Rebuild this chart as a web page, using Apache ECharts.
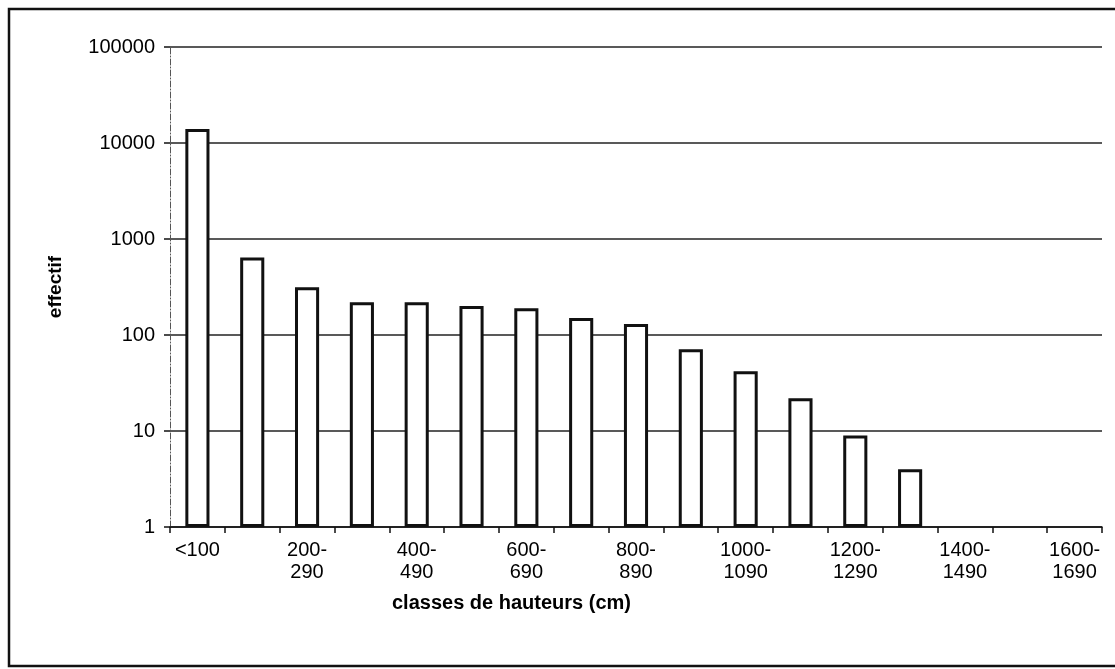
<!DOCTYPE html>
<html>
<head>
<meta charset="utf-8">
<script src="https://cdn.jsdelivr.net/npm/echarts@6/dist/echarts.min.js"></script>
<style>
html,body{margin:0;padding:0;background:#fff;}
#c{width:1115px;height:669px;}
</style>
</head>
<body>
<div id="c"></div>
<script>
const categories = ["<100","100-190","200-290","300-390","400-490","500-590","600-690","700-790","800-890","900-990","1000-1090","1100-1190","1200-1290","1300-1390","1400-1490","1500-1590","1600-1690"];
const effectif = [14000, 640, 315, 220, 220, 200, 190, 150, 130, 71, 42, 22, 9, 4, null, null, null];
const yTicks = [1, 10, 100, 1000, 10000, 100000];
const xTitle = "classes de hauteurs (cm)";
const yTitle = "effectif";

const chart = echarts.init(document.getElementById('c'), null, {renderer:'canvas'});
const FONT = 'Liberation Sans, Arial, sans-serif';
chart.setOption({
  animation: false,
  backgroundColor: '#fff',
  grid: {left: 170, right: 13, top: 47, bottom: 142},
  graphic: [
    {type:'rect', shape:{x:9, y:9, width:1120, height:657}, style:{fill:null, stroke:'#111', lineWidth:2.5}, z:-1},
    {type:'text', left: 392, top: 593, style:{text: xTitle, font: 'bold 20px ' + FONT, fill:'#000'}}
  ],
  xAxis: {
    type: 'category',
    data: categories,
    boundaryGap: true,
    axisLine: {lineStyle:{color:'#111', width:1.5}},
    axisTick: {show:true, interval:0, length:6, lineStyle:{color:'#111', width:1.5}},
    axisLabel: {
      interval: 1,
      margin: 12,
      color: '#000',
      fontFamily: FONT,
      fontSize: 20,
      lineHeight: 22,
      formatter: v => v.indexOf('-') > 0 ? v.replace('-', '-\n') : v
    },
    splitLine: {show:false}
  },
  yAxis: {
    type: 'log',
    logBase: 10,
    min: yTicks[0],
    max: yTicks[yTicks.length-1],
    name: yTitle,
    nameLocation: 'middle',
    nameGap: 105,
    nameTextStyle: {fontFamily: FONT, fontSize: 19, fontWeight:'bold', color:'#000'},
    axisLine: {show:true, lineStyle:{color:'#555', width:1, type:[6,2,1,2]}},
    axisTick: {show:true, length:6, lineStyle:{color:'#111', width:1.5}},
    axisLabel: {margin: 15, color:'#000', fontFamily: FONT, fontSize: 20, formatter: v => String(Math.round(v))},
    splitLine: {show:true, lineStyle:{color:'#222', width:1.5}},
    minorTick: {show:false}
  },
  series: [{
    type: 'bar',
    data: effectif,
    barWidth: '44%',
    itemStyle: {color:'#fff', borderColor:'#111', borderWidth:3}
  }]
});
</script>
</body>
</html>
